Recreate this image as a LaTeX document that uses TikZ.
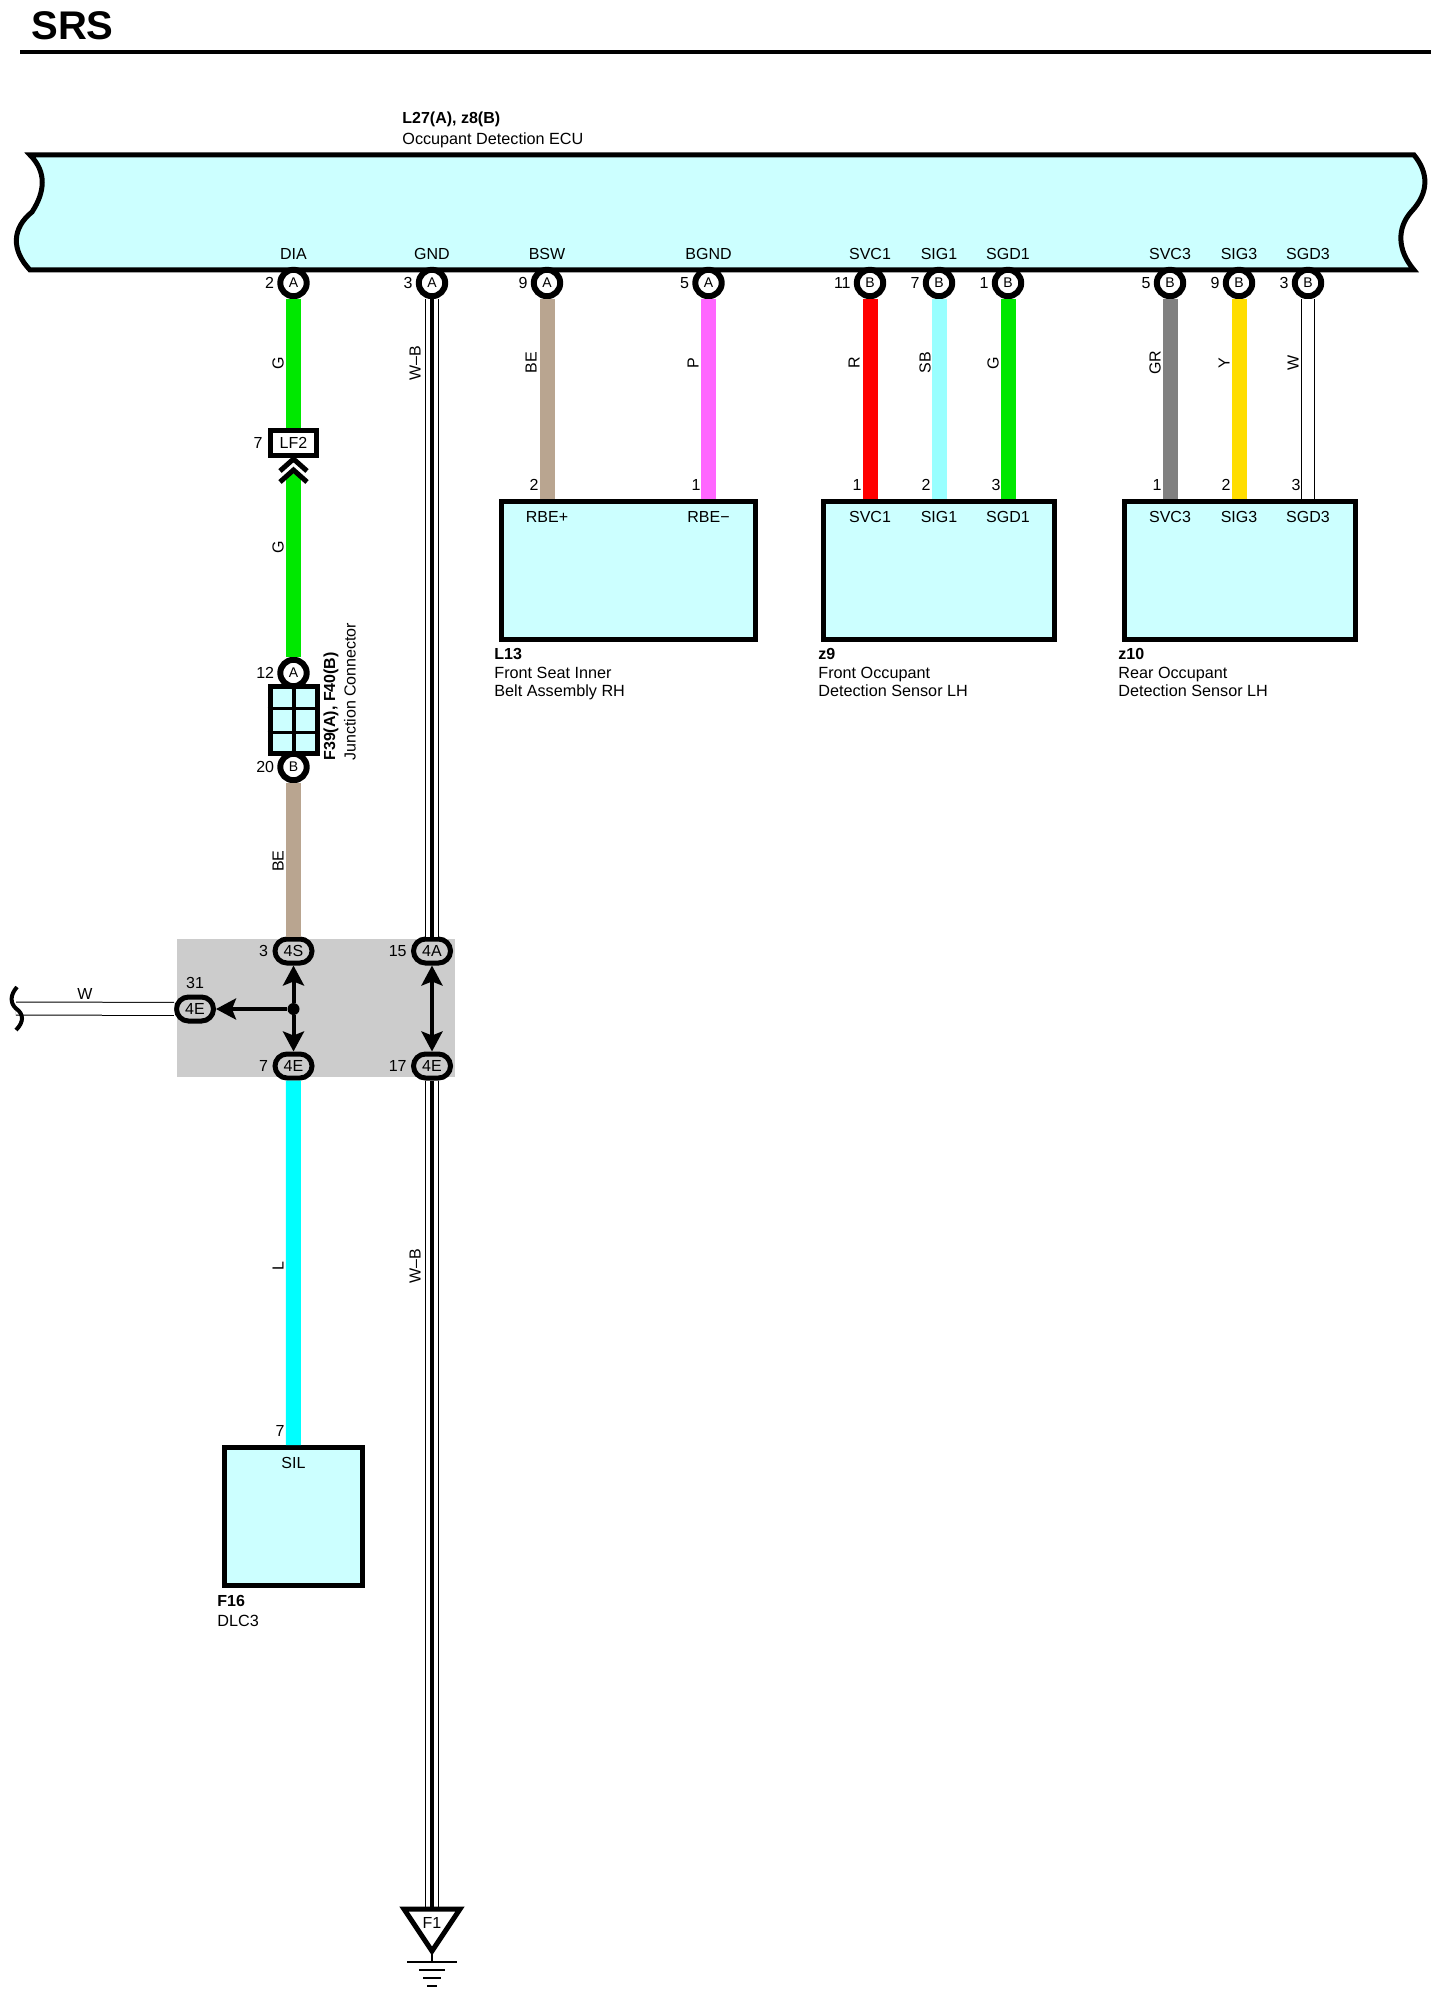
\documentclass[tikz,border=0pt]{standalone}
\usepackage{fontspec}
\setmainfont{Liberation Sans}
\usetikzlibrary{positioning,arrows.meta}
\definecolor{boxcyan}{HTML}{CCFFFF}
\definecolor{wireG}{HTML}{00E800}
\definecolor{wireBE}{HTML}{B9A590}
\definecolor{wireP}{HTML}{FF66FF}
\definecolor{wireR}{HTML}{FF0000}
\definecolor{wireSB}{HTML}{99FFFF}
\definecolor{wireGR}{HTML}{808080}
\definecolor{wireY}{HTML}{FFDD00}
\definecolor{wireL}{HTML}{00FFFF}
\tikzstyle{every node}=[inner sep=0pt,font=\fontsize{8}{9.6}\selectfont]
\tikzstyle{heavy}=[line width=2.5pt,line join=miter]
\tikzstyle{ring}=[circle,draw=black,fill=white,line width=3pt,minimum size=13.2pt,font=\fontsize{7}{8}\selectfont]
\tikzstyle{oval}=[rectangle,rounded corners=6pt,draw=black,fill=black!20,line width=2.5pt,minimum width=18.5pt,minimum height=12pt]
\tikzstyle{partbox}=[rectangle,draw=black,fill=boxcyan,line width=2.5pt]
\tikzstyle{wire}=[line width=7.5pt]
\tikzstyle{whitewire}=[draw=black,double=white,line width=.5pt,double distance=6pt]
\tikzstyle{tracer}=[draw=black,line width=2pt]
\tikzstyle{splice}=[draw=black,line width=2pt,-{Stealth[length=10pt,width=10.5pt,inset=2pt]}]
\tikzstyle{wirelabel}=[rotate=90]
\tikzstyle{pinnum}=[anchor=east]
\tikzstyle{partname}=[anchor=west,font=\fontsize{8}{9.6}\selectfont\bfseries]
\tikzstyle{partdesc}=[anchor=west,font=\fontsize{8.1}{9.6}\selectfont,text height=6pt,text depth=1.7pt]
\begin{document}
\begin{tikzpicture}[x=0.5pt,y=-0.5pt]
  \useasboundingbox (0,0) rectangle (1443,2000);
  \node (title) [anchor=west,font=\fontsize{20}{24}\selectfont\bfseries] at (31,26) {SRS};
  \draw[line width=2pt] (20,52) -- (1431,52);
  \node (ECUname) [partname] at (402,119) {L27(A), z8(B)};
  \node (ECUdesc) [partdesc] at (402,140.5) {Occupant Detection ECU};
  \draw[heavy,fill=boxcyan] (30,155) -- (1414,155)
    .. controls (1428,172) and (1430,192) .. (1411,212)
    .. controls (1397,228) and (1397,250) .. (1414,270) -- (30,270)
    .. controls (11,250) and (12,228) .. (32,212)
    .. controls (45,192) and (47,172) .. (30,155) -- cycle;
  \node (DIA) at (293.5,254) {DIA};
  \node (GND) at (432,254) {GND};
  \node (BSW) at (547,254) {BSW};
  \node (BGND) at (708.5,254) {BGND};
  \node (SVCa) at (870,254) {SVC1};
  \node (SIGa) at (939,254) {SIG1};
  \node (SGDa) at (1008,254) {SGD1};
  \node (SVCc) at (1170,254) {SVC3};
  \node (SIGc) at (1239,254) {SIG3};
  \node (SGDc) at (1308,254) {SGD3};
  \node (P1) [ring] at (293.5,283) {A};
  \node (P2) [ring] at (432,283) {A};
  \node (P3) [ring] at (547,283) {A};
  \node (P4) [ring] at (708.5,283) {A};
  \node (P5) [ring] at (870,283) {B};
  \node (P6) [ring] at (939,283) {B};
  \node (P7) [ring] at (1008,283) {B};
  \node (P8) [ring] at (1170,283) {B};
  \node (P9) [ring] at (1239,283) {B};
  \node (P10) [ring] at (1308,283) {B};
  \node (N1) [left=1.4pt of P1] {2};
  \node (N2) [left=1.4pt of P2] {3};
  \node (N3) [left=1.4pt of P3] {9};
  \node (N4) [left=1.4pt of P4] {5};
  \node (N5) [left=1.4pt of P5] {11};
  \node (N6) [left=1.4pt of P6] {7};
  \node (N7) [left=1.4pt of P7] {1};
  \node (N8) [left=1.4pt of P8] {5};
  \node (N9) [left=1.4pt of P9] {9};
  \node (N10) [left=1.4pt of P10] {3};
  \node (L13) [partbox,minimum width=127pt,minimum height=69pt] at (628.5,570.5) {};
  \node (Z9) [partbox,minimum width=115.5pt,minimum height=69pt] at (939,570.5) {};
  \node (Z10) [partbox,minimum width=115.25pt,minimum height=69pt] at (1239.75,570.5) {};
  \node (F16) [partbox,minimum width=69pt,minimum height=69pt] at (293.25,1516.5) {};
  \node (L13a) at (547,517) {RBE+};
  \node (L13b) at (708.5,517) {RBE−};
  \node (Z9a) at (870,517) {SVC1};
  \node (Z9b) at (939,517) {SIG1};
  \node (Z9c) at (1008,517) {SGD1};
  \node (Z10a) at (1170,517) {SVC3};
  \node (Z10b) at (1239,517) {SIG3};
  \node (Z10c) at (1308,517) {SGD3};
  \node (F16a) at (293.5,1463) {SIL};
  \node (L13name) [partname] at (494,654) {L13};
  \node (L13d) [partdesc] at (494,674.5) {Front Seat Inner};
  \node (L13e) [partdesc] at (494,692.5) {Belt Assembly RH};
  \node (Z9name) [partname] at (818,654) {z9};
  \node (Z9d) [partdesc] at (818,674.5) {Front Occupant};
  \node (Z9e) [partdesc] at (818,692.5) {Detection Sensor LH};
  \node (Z10name) [partname] at (1118,654) {z10};
  \node (Z10d) [partdesc] at (1118,674.5) {Rear Occupant};
  \node (Z10e) [partdesc] at (1118,692.5) {Detection Sensor LH};
  \node (F16name) [partname] at (217,1601) {F16};
  \node (F16d) [partdesc] at (217,1622) {DLC3};
  \node (LF2) [rectangle,draw=black,fill=white,line width=2.5pt,minimum width=23pt,minimum height=12.5pt] at (293.5,443) {LF2};
  \node (LF2n) [left=2.5pt of LF2] {7};
  \coordinate (LF2b) at (293.5,474);
  \node (F39) [partbox,minimum width=23.5pt,minimum height=33.5pt] at (293.5,720) {};
  \coordinate (F39h) at (293.5,708);
  \coordinate (F39i) at (293.5,732);
  \draw[line width=2pt] (F39.north) -- (F39.south);
  \draw[line width=1.5pt] (F39.west |- F39h) -- (F39.east |- F39h);
  \draw[line width=1.5pt] (F39.west |- F39i) -- (F39.east |- F39i);
  \node (F39a) [ring] at (293.5,673) {A};
  \node (F39b) [ring] at (293.5,767) {B};
  \node (F39an) [left=1.4pt of F39a] {12};
  \node (F39bn) [left=1.4pt of F39b] {20};
  \node (F39name) [rotate=90,anchor=west,font=\fontsize{8}{9.6}\selectfont\bfseries] at (331,761) {F39(A), F40(B)};
  \node (F39d) [rotate=90,anchor=west] at (350,761) {Junction Connector};
  \node (J) [rectangle,fill=black!20,minimum width=139pt,minimum height=69pt] at (316,1008) {};
  \node (J1) [oval] at (293.5,951) {4S};
  \node (J2) [oval] at (432,951) {4A};
  \node (J3) [oval] at (293.5,1066) {4E};
  \node (J4) [oval] at (432,1066) {4E};
  \node (J5) [oval] at (195,1009) {4E};
  \node (J1n) [left=2pt of J1] {3};
  \node (J2n) [left=2pt of J2] {15};
  \node (J3n) [left=2pt of J3] {7};
  \node (J4n) [left=2pt of J4] {17};
  \node (J5n) at (195,983) {31};
  \coordinate (Wend) at (16,1008.5);
  \coordinate (F1t) at (432,1909);
  \node (Dot) [circle,fill=black,minimum size=6pt] at (293.5,1009) {};
  \draw[wire,wireG] (P1) -- (LF2);
  \draw[wire,wireG] (LF2b) -- (F39a);
  \draw[wire,wireBE] (F39b) -- (J1);
  \draw[wire,wireL] (J3) -- (F16.north);
  \draw[whitewire] (P2) -- (J2);
  \draw[tracer] (P2) -- (J2);
  \draw[whitewire] (J4) -- (F1t);
  \draw[tracer] (J4) -- (F1t);
  \draw[whitewire] (Wend) -- (J5);
  \draw[wire,wireBE] (P3) -- (P3 |- L13.north);
  \draw[wire,wireP] (P4) -- (P4 |- L13.north);
  \draw[wire,wireR] (P5) -- (P5 |- Z9.north);
  \draw[wire,wireSB] (P6) -- (P6 |- Z9.north);
  \draw[wire,wireG] (P7) -- (P7 |- Z9.north);
  \draw[wire,wireGR] (P8) -- (P8 |- Z10.north);
  \draw[wire,wireY] (P9) -- (P9 |- Z10.north);
  \draw[whitewire] (P10) -- (P10 |- Z10.north);
  \draw[splice] (Dot) -- (J1);
  \draw[splice] (Dot) -- (J3);
  \draw[splice] (Dot) -- (J5);
  \draw[splice,{Stealth[length=10pt,width=10.5pt,inset=2pt]}-{Stealth[length=10pt,width=10.5pt,inset=2pt]}] (J2) -- (J4);
  \draw[line width=2.5pt,line join=miter] (280,471) -- (293.5,459) -- (307,471);
  \draw[line width=2.5pt,line join=miter] (280,482) -- (293.5,470) -- (307,482);
  \draw[line width=2pt] (17,987) .. controls (10,995) and (10,1003) .. (Wend) .. controls (24,1014) and (24,1022) .. (16,1030);
  \node (Wn1) [wirelabel] at (278,363) {G};
  \node (Wn2) [wirelabel] at (278,547) {G};
  \node (Wn3) [wirelabel] at (278,861) {BE};
  \node (Wn4) [wirelabel] at (278,1266) {L};
  \node (Wn5) [wirelabel] at (415,363) {W–B};
  \node (Wn6) [wirelabel] at (415,1266) {W–B};
  \node (Wn7) [wirelabel] at (531,363) {BE};
  \node (Wn8) [wirelabel] at (693,363) {P};
  \node (Wn9) [wirelabel] at (854,363) {R};
  \node (Wn10) [wirelabel] at (925,363) {SB};
  \node (Wn11) [wirelabel] at (993,363) {G};
  \node (Wn12) [wirelabel] at (1155,363) {GR};
  \node (Wn13) [wirelabel] at (1224,363) {Y};
  \node (Wn14) [wirelabel] at (1293,363) {W};
  \node (Wn15) at (85,994) {W};
  \node (Tn1) [pinnum] at (539,485) {2};
  \node (Tn2) [pinnum] at (701,485) {1};
  \node (Tn3) [pinnum] at (862,485) {1};
  \node (Tn4) [pinnum] at (931,485) {2};
  \node (Tn5) [pinnum] at (1001,485) {3};
  \node (Tn6) [pinnum] at (1162,485) {1};
  \node (Tn7) [pinnum] at (1231,485) {2};
  \node (Tn8) [pinnum] at (1301,485) {3};
  \node (Tn9) [pinnum] at (285,1431) {7};
  \draw[line width=2.5pt,line join=miter,fill=white] (404,1909) -- (460,1909) -- (432,1951) -- cycle;
  \node (F1) at (432,1923) {F1};
  \draw[line width=1pt] (432,1951) -- (432,1962);
  \draw[line width=1pt] (407,1962) -- (457,1962);
  \draw[line width=1.2pt] (419,1970) -- (445,1970);
  \draw[line width=1.2pt] (423,1978) -- (441,1978);
  \draw[line width=1.2pt] (427,1986) -- (437,1986);
\end{tikzpicture}
\end{document}
